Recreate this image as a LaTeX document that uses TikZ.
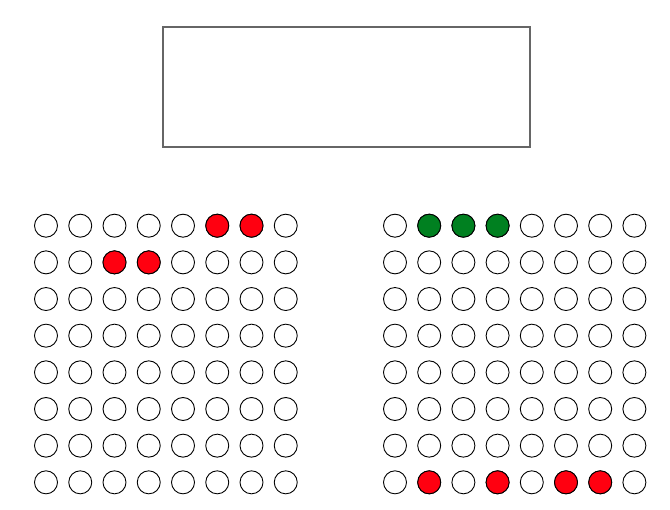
\documentclass[tikz,border=0pt]{standalone}
\usepackage{tikz}
\usepackage[dvipsnames,svgnames]{xcolor}
\definecolor{kursimerah}{RGB}{255,0,16}
\definecolor{kursihijau}{RGB}{0,128,32}

\begin{document}
\begin{tikzpicture}[x=1pt,y=-1pt,
    kursi/.style={circle,draw=black,fill=white,line width=0.9pt,minimum size=23pt,inner sep=0pt}]
    
    % Batas gambar
    \useasboundingbox (0,0) rectangle (670,510);
    
    % Gambar papan di depan kelas
    \node[draw=black!60,line width=1.2pt,minimum width=367pt,minimum height=120pt,inner sep=0pt] (papan) at (346.5,87) {};
    
    % Gambar kursi blok kiri (8 x 8)
    \foreach \b in {1,...,8}
      \foreach \k in {1,...,8}
        \node[kursi] (kiri-\b-\k) at ({46+(\k-1)*34.25},{225.7+(\b-1)*36.66}) {};
    
    % Gambar kursi blok kanan (8 x 8)
    \foreach \b in {1,...,8}
      \foreach \k in {1,...,8}
        \node[kursi] (kanan-\b-\k) at ({395+(\k-1)*34.2},{225.7+(\b-1)*36.66}) {};
    
    % Kursi merah
    \foreach \b/\k in {1/6,1/7,2/3,2/4}
      \filldraw[black,line width=0.9pt,fill=kursimerah] (kiri-\b-\k.center) circle (11.5pt);
    \foreach \b/\k in {8/2,8/4,8/6,8/7}
      \filldraw[black,line width=0.9pt,fill=kursimerah] (kanan-\b-\k.center) circle (11.5pt);
    
    % Kursi hijau
    \foreach \b/\k in {1/2,1/3,1/4}
      \filldraw[black,line width=0.9pt,fill=kursihijau] (kanan-\b-\k.center) circle (11.5pt);
    
\end{tikzpicture}
\end{document}
